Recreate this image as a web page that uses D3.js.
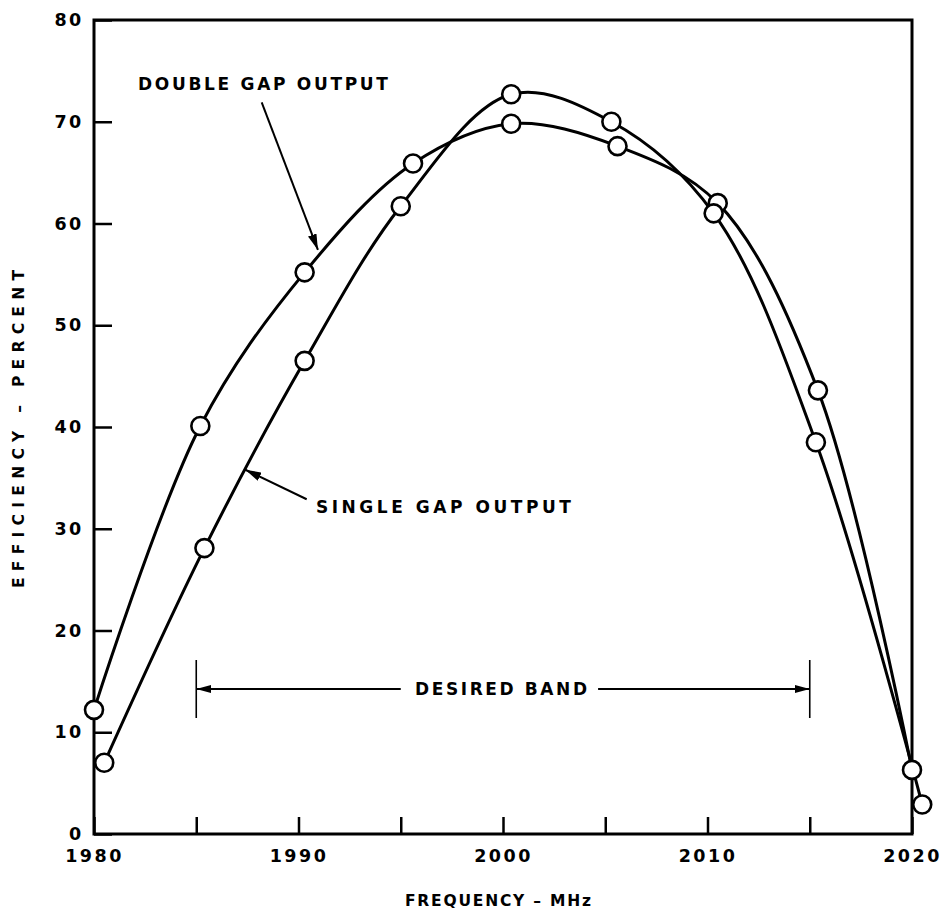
<!DOCTYPE html>
<html>
<head>
<meta charset="utf-8">
<script src="https://cdn.jsdelivr.net/npm/d3@7"></script>
<style>
  html, body { margin: 0; padding: 0; background: #fff; }
  svg { display: block; }
  text { font-family: "DejaVu Sans", "Liberation Sans", sans-serif; fill: #000; }
</style>
</head>
<body>
<svg id="chart" width="945" height="914"></svg>
<script>
// Output efficiency vs. frequency for single- and double-gap output circuits
const freqDouble = [1980.0, 1985.2, 1990.3, 1995.6, 2000.4, 2005.6, 2010.5, 2015.4, 2020.0];
const effDouble  = [12.2, 40.1, 55.2, 65.9, 69.8, 67.6, 62.0, 43.6, 6.3];
const freqSingle = [1980.5, 1985.4, 1990.3, 1995.0, 2000.4, 2005.3, 2010.3, 2015.3, 2020.5];
const effSingle  = [7.0, 28.1, 46.5, 61.7, 72.7, 70.0, 61.0, 38.5, 2.9];

const xTicks = [1980, 1985, 1990, 1995, 2000, 2005, 2010, 2015, 2020];
const xLabels = [1980, 1990, 2000, 2010, 2020];
const yTicks = [0, 10, 20, 30, 40, 50, 60, 70, 80];

const bandStart = 1985, bandEnd = 2015, bandLevel = 14.25;

const svg = d3.select("#chart");
const plotLeft = 94, plotRight = 912, plotTop = 20, plotBottom = 834;

const x = d3.scaleLinear().domain([1980, 2020]).range([plotLeft, plotRight]);
const y = d3.scaleLinear().domain([0, 80]).range([plotBottom, plotTop]);

// arrowhead markers
const defs = svg.append("defs");
function marker(id, w, h) {
  defs.append("marker")
    .attr("id", id)
    .attr("viewBox", `0 0 ${w} ${h}`)
    .attr("refX", w).attr("refY", h / 2)
    .attr("markerWidth", w).attr("markerHeight", h)
    .attr("markerUnits", "userSpaceOnUse")
    .attr("orient", "auto-start-reverse")
    .append("path")
    .attr("d", `M0,0L${w},${h / 2}L0,${h}Z`)
    .attr("fill", "#000");
}
marker("arrow", 16, 9);
marker("arrowSmall", 15, 8);

// axes with inward ticks
const xAxis = d3.axisBottom(x)
  .tickValues(xTicks)
  .tickSizeInner(-17).tickSizeOuter(0)
  .tickPadding(16)
  .tickFormat(d => xLabels.includes(d) ? d3.format("d")(d) : "");
const gx = svg.append("g").attr("transform", `translate(0,${plotBottom})`).call(xAxis);

const yAxis = d3.axisLeft(y)
  .tickValues(yTicks)
  .tickSizeInner(-18).tickSizeOuter(0)
  .tickPadding(12)
  .tickFormat(d3.format("d"));
const gy = svg.append("g").attr("transform", `translate(${plotLeft},0)`).call(yAxis);

[gx, gy].forEach(g => {
  g.select(".domain").remove();
  g.selectAll(".tick line").attr("stroke", "#000").attr("stroke-width", 2.5);
  g.selectAll(".tick text")
    .style("font-family", "'DejaVu Sans', sans-serif")
    .style("font-weight", "bold")
    .style("font-size", "17.5px")
    .style("letter-spacing", "2.5px")
    .attr("fill", "#000");
});
gy.selectAll(".tick text").attr("dx", "0.1em");

// frame
svg.append("rect")
  .attr("x", plotLeft).attr("y", plotTop)
  .attr("width", plotRight - plotLeft).attr("height", plotBottom - plotTop)
  .attr("fill", "none").attr("stroke", "#000").attr("stroke-width", 3);

// axis titles
svg.append("text")
  .attr("x", x(2000) - 5).attr("y", 906)
  .attr("text-anchor", "middle")
  .attr("font-weight", "bold").attr("font-size", 15.5)
  .attr("textLength", 186).attr("lengthAdjust", "spacing")
  .text("FREQUENCY \u2013 MHz");

svg.append("text")
  .attr("transform", `translate(24,${(plotTop + plotBottom) / 2 + 2}) rotate(-90)`)
  .attr("text-anchor", "middle")
  .attr("font-weight", "bold").attr("font-size", 15.5)
  .attr("textLength", 318).attr("lengthAdjust", "spacing")
  .text("EFFICIENCY \u2013 PERCENT");

// curves
const line = d3.line()
  .x(d => x(d[0])).y(d => y(d[1]))
  .curve(d3.curveCatmullRom.alpha(0.5));

const series = [
  { name: "double", pts: d3.zip(freqDouble, effDouble) },
  { name: "single", pts: d3.zip(freqSingle, effSingle) }
];

svg.append("g").selectAll("path")
  .data(series)
  .join("path")
  .attr("d", d => line(d.pts))
  .attr("fill", "none")
  .attr("stroke", "#000")
  .attr("stroke-width", 3);

svg.append("g").selectAll("circle")
  .data(series.flatMap(s => s.pts))
  .join("circle")
  .attr("cx", d => x(d[0])).attr("cy", d => y(d[1]))
  .attr("r", 9)
  .attr("fill", "#fff")
  .attr("stroke", "#000")
  .attr("stroke-width", 2.6);

// curve labels with leader arrows
svg.append("text")
  .attr("x", x(1982.15)).attr("y", y(73.1))
  .attr("font-weight", "bold").attr("font-size", 17)
  .attr("textLength", 250).attr("lengthAdjust", "spacing")
  .text("DOUBLE GAP OUTPUT");
svg.append("line")
  .attr("x1", x(1988.2)).attr("y1", y(71.9))
  .attr("x2", x(1990.95)).attr("y2", y(57.4))
  .attr("stroke", "#000").attr("stroke-width", 2)
  .attr("marker-end", "url(#arrow)");

svg.append("text")
  .attr("x", x(1990.85)).attr("y", y(31.5))
  .attr("font-weight", "bold").attr("font-size", 17)
  .attr("textLength", 255).attr("lengthAdjust", "spacing")
  .text("SINGLE GAP OUTPUT");
svg.append("line")
  .attr("x1", x(1990.4)).attr("y1", y(32.9))
  .attr("x2", x(1987.4)).attr("y2", y(35.8))
  .attr("stroke", "#000").attr("stroke-width", 2)
  .attr("marker-end", "url(#arrow)");

// desired band marker
const band = svg.append("g");
[bandStart, bandEnd].forEach(f => {
  band.append("line")
    .attr("x1", x(f)).attr("x2", x(f))
    .attr("y1", y(bandLevel + 2.85)).attr("y2", y(bandLevel - 2.85))
    .attr("stroke", "#000").attr("stroke-width", 1.6);
});
band.append("text")
  .attr("x", x((bandStart + bandEnd) / 2) - 2).attr("y", y(bandLevel) + 6)
  .attr("text-anchor", "middle")
  .attr("font-weight", "bold").attr("font-size", 17)
  .attr("textLength", 172).attr("lengthAdjust", "spacing")
  .text("DESIRED BAND");
band.append("line")
  .attr("x1", x(1995.0)).attr("x2", x(bandStart))
  .attr("y1", y(bandLevel)).attr("y2", y(bandLevel))
  .attr("stroke", "#000").attr("stroke-width", 1.8)
  .attr("marker-end", "url(#arrowSmall)");
band.append("line")
  .attr("x1", x(2004.65)).attr("x2", x(bandEnd))
  .attr("y1", y(bandLevel)).attr("y2", y(bandLevel))
  .attr("stroke", "#000").attr("stroke-width", 1.8)
  .attr("marker-end", "url(#arrowSmall)");
</script>
</body>
</html>
